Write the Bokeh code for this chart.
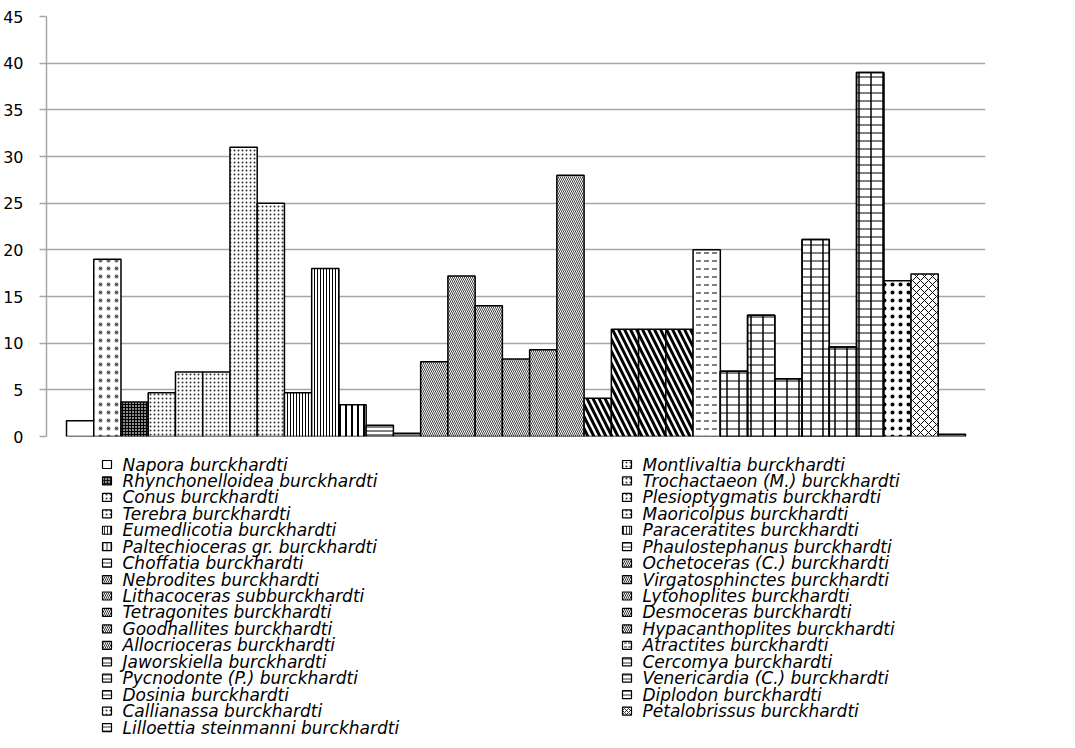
import numpy as np
from bokeh.plotting import figure
from bokeh.models import ColumnDataSource, Range1d, FixedTicker
from bokeh.layouts import column
from bokeh.embed import file_html
from bokeh.resources import INLINE
from bokeh.core.properties import value

# ---------------- data ----------------
names = [
    "Napora burckhardti", "Montlivaltia burckhardti",
    "Rhynchonelloidea burckhardti", "Trochactaeon (M.) burckhardti",
    "Conus burckhardti", "Plesioptygmatis burckhardti",
    "Terebra burckhardti", "Maoricolpus burckhardti",
    "Eumedlicotia burckhardti", "Paraceratites burckhardti",
    "Paltechioceras  gr. burckhardti", "Phaulostephanus burckhardti",
    "Choffatia burckhardti", "Ochetoceras (C.) burckhardti",
    "Nebrodites burckhardti", "Virgatosphinctes burckhardti",
    "Lithacoceras subburckhardti", "Lytohoplites burckhardti",
    "Tetragonites burckhardti", "Desmoceras burckhardti",
    "Goodhallites burckhardti", "Hypacanthoplites burckhardti",
    "Allocrioceras burckhardti", "Atractites burckhardti",
    "Jaworskiella burckhardti", "Cercomya burckhardti",
    "Pycnodonte (P.) burckhardti", "Venericardia (C.) burckhardti",
    "Dosinia burckhardti", "Diplodon burckhardti",
    "Callianassa burckhardti", "Petalobrissus burckhardti",
    "Lilloettia steinmanni burckhardti",
]
values = [1.7, 19, 3.7, 4.7, 6.9, 6.9, 31, 25, 4.7, 18, 3.4, 1.2, 0.35,
          8, 17.2, 14, 8.3, 9.3, 28, 4.1, 11.5, 11.5, 11.5, 20,
          7, 13, 6.2, 21.1, 9.6, 39, 16.7, 17.4, 0.25]
y_ticks = [0, 5, 10, 15, 20, 25, 30, 35, 40, 45]

# ---------------- styles ----------------
patterns = [" ", ".", "+", ".", ".", ".", ".", ".",
            "|", "|", "|", "-", "-",
            "\\", "\\", "\\", "\\", "\\", "\\", "\\", "\\", "\\", "\\", '"',
            "-", "-", "-", "-", "-", "-", ".", "x", "-"]
scales = [12, 8, 3, 4, 4, 4, 4, 4, 3, 3, 6, 4, 4,
          4, 4, 4, 4, 4, 4, 12, 12, 12, 12, 8,
          8, 8, 8, 8, 8, 8, 8, 8, 4]
weights = [1, 0.3, 1, 1, 1, 1, 1, 1, 1, 1, 2, 1, 1,
           1, 1, 1, 1, 1, 1, 3, 3, 3, 3, 1,
           1, 1, 1, 1, 1, 1, 3, 1, 1]
alphas = [1, 0.6, 1, 0.8, 0.8, 0.8, 0.8, 0.8, 1, 1, 1, 1, 1,
          0.75, 0.75, 0.75, 0.75, 0.75, 0.75, 1, 1, 1, 1, 1,
          1, 1, 1, 1, 1, 1, 1, 1, 1]
fills = ["white", "white", "#8c8c8c"] + ["white"] * 30
grid_idx = [24, 25, 26, 27, 28, 29]

n = len(names)
xs = list(range(n))
src = ColumnDataSource(dict(x=xs, top=values, name=names, pat=patterns,
                            sc=scales, wt=weights, ha=alphas, fc=fills))
src2 = ColumnDataSource(dict(x=[xs[i] for i in grid_idx],
                             top=[values[i] for i in grid_idx]))

GRID = "#a6a6a6"
FW, FH = 939, 420
BL, BR, BT, BB = 46, 20, 16, 12
pad = 20 / 27.24
p = figure(frame_width=FW, frame_height=FH, output_backend="svg",
           toolbar_location=None, x_range=Range1d(-0.5 - pad, n - 0.5 + pad),
           y_range=Range1d(0, 45), min_border_left=BL, min_border_top=BT,
           min_border_bottom=BB, min_border_right=BR)
p.outline_line_color = None
p.xgrid.visible = False
p.xaxis.visible = False
p.ygrid.grid_line_color = GRID
p.ygrid.grid_line_width = 1.5
p.yaxis.ticker = FixedTicker(ticks=y_ticks)
p.yaxis.axis_line_color = GRID
p.yaxis.axis_line_width = 1.5
p.yaxis.major_tick_line_color = GRID
p.yaxis.major_tick_line_width = 1.5
p.yaxis.major_tick_out = 7
p.yaxis.major_tick_in = 0
p.yaxis.minor_tick_line_color = None
p.yaxis.major_label_standoff = 16
p.yaxis.major_label_text_font = "DejaVu Sans"
p.yaxis.major_label_text_font_size = "16px"
p.yaxis.major_label_text_color = "#000000"

p.vbar(x="x", top="top", width=1.0, bottom=0, source=src,
       fill_color="fc", line_color="black", line_width=1.5,
       hatch_pattern=dict(field="pat"), hatch_scale="sc", hatch_weight="wt",
       hatch_alpha="ha", hatch_color="black")
p.vbar(x="x", top="top", width=1.0, bottom=0, source=src2,
       fill_alpha=0, line_color="black", line_width=1.5,
       hatch_pattern="|", hatch_scale=12, hatch_weight=1.5, hatch_color="black")

# ---------------- legend (manual, two columns) ----------------
LH = 295
leg = figure(frame_width=FW, frame_height=LH, output_backend="svg",
             toolbar_location=None,
             x_range=Range1d(0, FW), y_range=Range1d(LH, 0),
             min_border_left=BL, min_border_right=BR,
             min_border_top=0, min_border_bottom=0)
leg.axis.visible = False
leg.grid.visible = False
leg.outline_line_color = None

row0, pitch = 16, 16.44
col_sw = [56, 576]
col_tx = [76, 596]
lx, ly, sw_l, sw_r, sw_t, sw_b = [], [], [], [], [], []
for i in range(n):
    r = i // 2
    c = i % 2
    cy = row0 + pitch * r
    sw_l.append(col_sw[c]); sw_r.append(col_sw[c] + 9)
    sw_t.append(cy - 4); sw_b.append(cy + 4)
    lx.append(col_tx[c]); ly.append(cy)
leg_scales = [min(s, 4) for s in scales]
lsrc = ColumnDataSource(dict(l=sw_l, r=sw_r, t=sw_t, b=sw_b, tx=lx, ty=ly,
                             name=names, pat=patterns, sc=leg_scales,
                             wt=[1] * n, fc=fills))
leg.quad(left="l", right="r", top="t", bottom="b", source=lsrc,
         fill_color="fc", line_color="black", line_width=1.2,
         hatch_pattern=dict(field="pat"), hatch_scale="sc", hatch_weight="wt",
         hatch_color="black", hatch_alpha=0.8)
leg.text(x="tx", y="ty", text="name", source=lsrc,
         text_font=value("DejaVu Sans"), text_font_style="italic",
         text_font_size="17px", text_baseline="middle", text_align="left",
         text_color="#000000")

layout = column(p, leg, spacing=0)
open("out.html", "w").write(file_html(layout, INLINE))
